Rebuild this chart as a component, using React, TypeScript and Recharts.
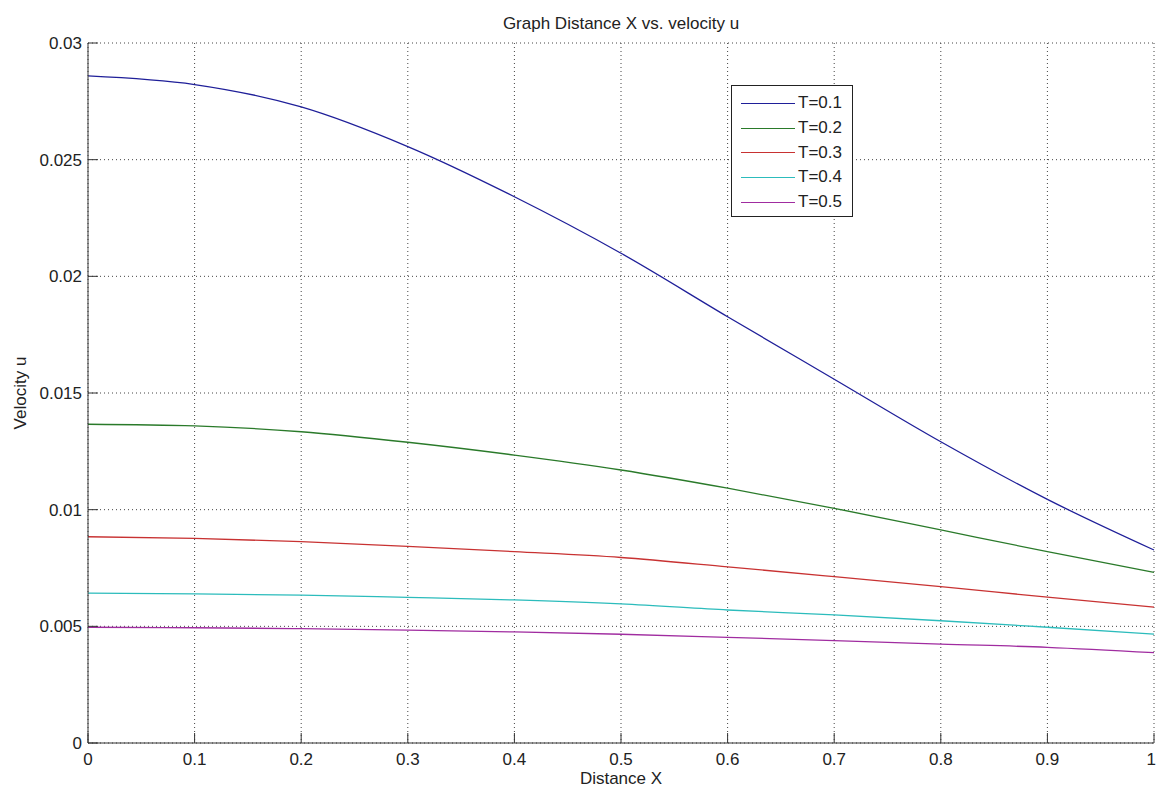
import { LineChart, Line, XAxis, YAxis, CartesianGrid } from 'recharts';

// Distance X grid and velocity u for each time T
const DISTANCE = [0, 0.1, 0.2, 0.3, 0.4, 0.5, 0.6, 0.7, 0.8, 0.9, 1];
const U_T1 = [0.02859, 0.02822, 0.02726, 0.02556, 0.02341, 0.02099, 0.01827, 0.01559, 0.01291, 0.01044, 0.00827];
const U_T2 = [0.01366, 0.01359, 0.01334, 0.01289, 0.01234, 0.0117, 0.01092, 0.01006, 0.00913, 0.0082, 0.00731];
const U_T3 = [0.00884, 0.00877, 0.00863, 0.00843, 0.0082, 0.00795, 0.00755, 0.00713, 0.0067, 0.00625, 0.00582];
const U_T4 = [0.00642, 0.00639, 0.00634, 0.00624, 0.00613, 0.00596, 0.0057, 0.00549, 0.00524, 0.00496, 0.00467];
const U_T5 = [0.00496, 0.00494, 0.0049, 0.00484, 0.00476, 0.00466, 0.00453, 0.00439, 0.00424, 0.0041, 0.00387];

const Y_TICKS = [0, 0.005, 0.01, 0.015, 0.02, 0.025, 0.03];

const SERIES = [
  { key: 't1', name: 'T=0.1', color: '#1f1f99', values: U_T1 },
  { key: 't2', name: 'T=0.2', color: '#2a7a2a', values: U_T2 },
  { key: 't3', name: 'T=0.3', color: '#c83232', values: U_T3 },
  { key: 't4', name: 'T=0.4', color: '#2cbcbc', values: U_T4 },
  { key: 't5', name: 'T=0.5', color: '#a02ca0', values: U_T5 },
];

const data = DISTANCE.map((x, i) => {
  const row: Record<string, number> = { x };
  SERIES.forEach((s) => (row[s.key] = s.values[i]));
  return row;
});

const W = 1156;
const H = 787;
const FONT = '"Liberation Sans", Arial, Helvetica, sans-serif';
const AXIS = '#333';
const TICK_LEN = 10;
const X_GAP = 9;
const Y_GAP = 6;
const X_MAX = DISTANCE[DISTANCE.length - 1];

// MATLAB style: tick marks point into the plot box
const BottomTick = ({ x, y, payload }: any) => {
  // last label sits on the page edge, keep it inside
  const last = payload.value === X_MAX;
  return (
    <g>
      <line x1={x} x2={x} y1={y - X_GAP} y2={y - X_GAP - TICK_LEN} stroke={AXIS} />
      <text
        x={last ? x + 2 : x}
        y={y}
        dy="0.75em"
        textAnchor={last ? 'end' : 'middle'}
        fontSize={17}
        fill="#222"
        fontFamily={FONT}
      >
        {payload.value}
      </text>
    </g>
  );
};

const LeftTick = ({ x, y, payload }: any) => (
  <g>
    <line x1={x + Y_GAP} x2={x + Y_GAP + TICK_LEN} y1={y} y2={y} stroke={AXIS} />
    <text x={x} y={y} dy="0.36em" textAnchor="end" fontSize={17} fill="#222" fontFamily={FONT}>
      {payload.value}
    </text>
  </g>
);

const TopTick = ({ x, y }: any) => <line x1={x} x2={x} y1={y} y2={y + TICK_LEN} stroke={AXIS} />;

const RightTick = ({ x, y }: any) => <line x1={x - TICK_LEN} x2={x} y1={y} y2={y} stroke={AXIS} />;

export default function App() {
  return (
    <div style={{ position: 'absolute', left: 0, top: 0, width: W, height: H, background: '#fff', fontFamily: FONT }}>
      <LineChart width={W} height={H} data={data} margin={{ top: 43, right: 2, bottom: 0, left: 0 }}>
        <CartesianGrid stroke="#444" strokeDasharray="1 3" />
        <XAxis
          dataKey="x"
          type="number"
          domain={[0, 1]}
          ticks={DISTANCE}
          interval={0}
          height={44}
          tickSize={0}
          tickMargin={X_GAP}
          tickLine={false}
          axisLine={{ stroke: AXIS }}
          tick={<BottomTick />}
        />
        <XAxis
          xAxisId="top"
          orientation="top"
          dataKey="x"
          type="number"
          domain={[0, 1]}
          ticks={DISTANCE}
          interval={0}
          height={0}
          tickSize={0}
          tickMargin={0}
          tickLine={false}
          axisLine={{ stroke: AXIS }}
          tick={<TopTick />}
        />
        <YAxis
          type="number"
          domain={[0, 0.03]}
          ticks={Y_TICKS}
          interval={0}
          width={88}
          tickSize={0}
          tickMargin={Y_GAP}
          tickLine={false}
          axisLine={{ stroke: AXIS }}
          tick={<LeftTick />}
        />
        <YAxis
          yAxisId="right"
          orientation="right"
          type="number"
          domain={[0, 0.03]}
          ticks={Y_TICKS}
          interval={0}
          width={0}
          tickSize={0}
          tickMargin={0}
          tickLine={false}
          axisLine={{ stroke: AXIS }}
          tick={<RightTick />}
        />
        {SERIES.map((s) => (
          <Line
            key={s.key}
            dataKey={s.key}
            name={s.name}
            type="monotone"
            stroke={s.color}
            strokeWidth={1.3}
            dot={false}
            activeDot={false}
            isAnimationActive={false}
          />
        ))}
      </LineChart>

      <div
        style={{
          position: 'absolute',
          left: 88,
          width: 1066,
          top: 15,
          textAlign: 'center',
          fontSize: 17,
          lineHeight: '17px',
          color: '#222',
        }}
      >
        Graph Distance X vs. velocity u
      </div>
      <div
        style={{
          position: 'absolute',
          left: 88,
          width: 1066,
          top: 770,
          textAlign: 'center',
          fontSize: 17,
          lineHeight: '17px',
          color: '#222',
        }}
      >
        Distance X
      </div>
      <div
        style={{
          position: 'absolute',
          left: 20,
          top: 393,
          transform: 'translate(-50%, -50%) rotate(-90deg)',
          whiteSpace: 'nowrap',
          fontSize: 17,
          lineHeight: '17px',
          color: '#222',
        }}
      >
        Velocity u
      </div>

      <div
        style={{
          position: 'absolute',
          left: 731,
          top: 85,
          width: 122,
          height: 132,
          boxSizing: 'border-box',
          border: '1px solid #222',
          background: '#fff',
          paddingTop: 5,
        }}
      >
        {SERIES.map((s) => (
          <div key={s.key} style={{ display: 'flex', alignItems: 'center', height: 24.7 }}>
            <div style={{ marginLeft: 9, width: 54, height: 0, borderTop: `1.5px solid ${s.color}` }} />
            <span style={{ marginLeft: 3, fontSize: 17, color: '#222' }}>{s.name}</span>
          </div>
        ))}
      </div>
    </div>
  );
}
